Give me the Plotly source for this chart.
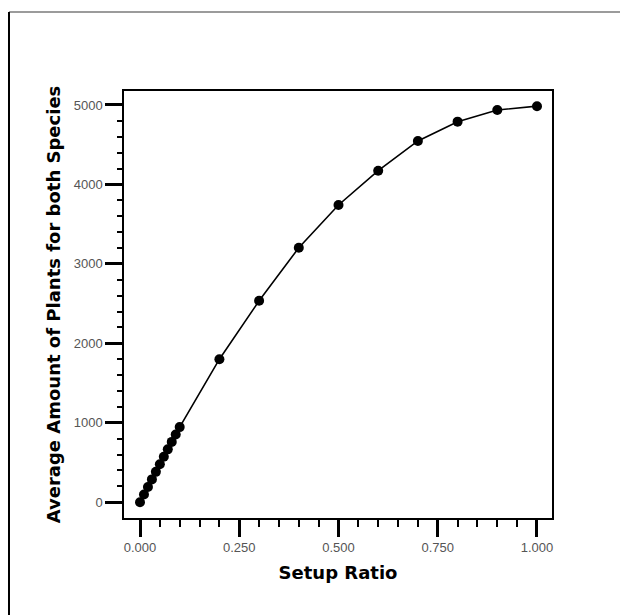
import plotly.graph_objects as go

# Data
setup_ratio = [0.00, 0.01, 0.02, 0.03, 0.04, 0.05, 0.06, 0.07, 0.08, 0.09, 0.10,
               0.2, 0.3, 0.4, 0.5, 0.6, 0.7, 0.8, 0.9, 1.0]
avg_plants = [0, 96, 192, 287, 382, 477, 571, 665, 759, 852, 945,
              1800, 2535, 3203, 3741, 4173, 4547, 4790, 4937, 4985]

x_ticks = [0.0, 0.25, 0.5, 0.75, 1.0]
x_tick_labels = ["0.000", "0.250", "0.500", "0.750", "1.000"]
y_ticks = [0, 1000, 2000, 3000, 4000, 5000]
y_tick_labels = ["0", "1000", "2000", "3000", "4000", "5000"]

x_title = "Setup Ratio"
y_title = "Average Amount of Plants for both Species"

fig = go.Figure()
fig.add_trace(go.Scatter(
    x=setup_ratio, y=avg_plants, mode="lines+markers",
    line=dict(color="black", width=1.6),
    marker=dict(color="black", size=10),
    showlegend=False,
))

tick_font = dict(family="Liberation Sans, Arial, sans-serif", size=13, color="#555555")
title_font = dict(family="DejaVu Sans, sans-serif", size=18, color="black")

fig.update_layout(
    width=620, height=615,
    margin=dict(l=124, r=68, t=91, b=97),
    paper_bgcolor="white", plot_bgcolor="white",
    xaxis=dict(
        range=[-0.0403, 1.0378], tickvals=x_ticks, ticktext=x_tick_labels,
        showgrid=False, zeroline=False,
        showline=True, linecolor="black", linewidth=1.5, mirror=True,
        ticks="outside", ticklen=17, tickwidth=2.5, tickcolor="black",
        minor=dict(dtick=0.05, tick0=0, ticks="outside", ticklen=7, tickwidth=2, tickcolor="black", showgrid=False),
        tickfont=tick_font,
        title=dict(text="<b>" + x_title + "</b>", font=title_font, standoff=12),
    ),
    yaxis=dict(
        range=[-199, 5176], tickvals=y_ticks, ticktext=y_tick_labels,
        showgrid=False, zeroline=False,
        showline=True, linecolor="black", linewidth=1.5, mirror=True,
        ticks="outside", ticklen=17, tickwidth=2.5, tickcolor="black",
        minor=dict(dtick=200, tick0=0, ticks="outside", ticklen=5, tickwidth=2, tickcolor="black", showgrid=False),
        tickfont=tick_font,
        title=dict(text="<b>" + y_title + "</b>", font=title_font, standoff=8),
    ),
    shapes=[
        dict(type="line", xref="paper", yref="paper", x0=-0.2687, x1=1.2, y0=1.185, y1=1.185,
             line=dict(color="#7a7a7a", width=1.5)),
        dict(type="line", xref="paper", yref="paper", x0=-0.2687, x1=-0.2687, y0=1.185, y1=-0.3,
             line=dict(color="black", width=2)),
    ],
)

fig.write_html("out.html")
